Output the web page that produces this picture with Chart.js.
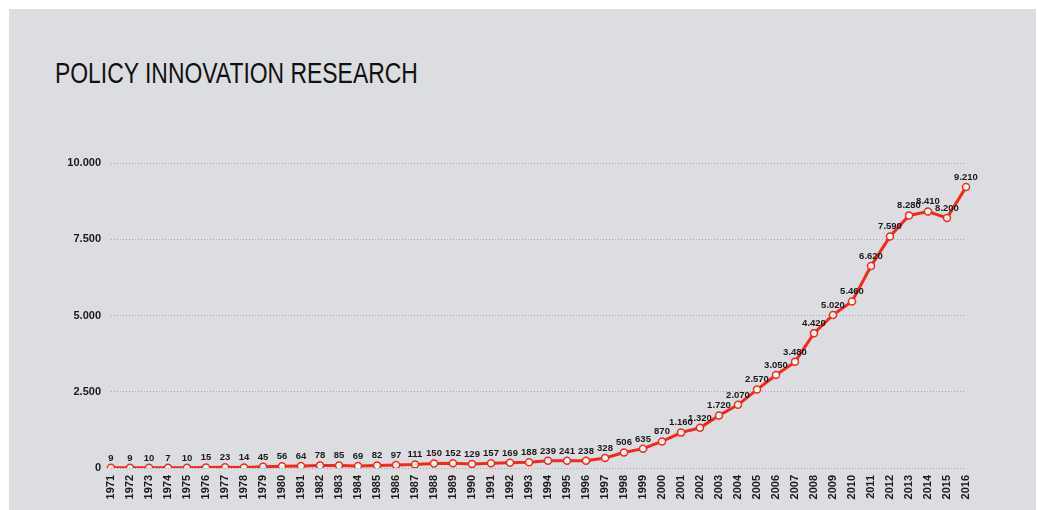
<!DOCTYPE html>
<html>
<head>
<meta charset="utf-8">
<script src="https://cdn.jsdelivr.net/npm/chart.js@4"></script>
<style>
  html, body { margin: 0; padding: 0; background: #fff; }
  #panel { position: absolute; left: 9px; top: 9px; width: 1027px; height: 501px; background: #dcdde0; }
  #title { position: absolute; left: 55px; top: 57px; margin: 0; font: normal 29px "Liberation Sans", sans-serif; color: #111; transform: scaleX(0.79); transform-origin: left top; white-space: nowrap; }
  #wrap { position: absolute; left: 0; top: 0; width: 1038px; height: 510px; }
</style>
</head>
<body>
<div id="panel"></div>
<h1 id="title">POLICY INNOVATION RESEARCH</h1>
<div id="wrap"><canvas id="myChart"></canvas></div>
<script>
var years = ["1971","1972","1973","1974","1975","1976","1977","1978","1979","1980",
  "1981","1982","1983","1984","1985","1986","1987","1988","1989","1990",
  "1991","1992","1993","1994","1995","1996","1997","1998","1999","2000",
  "2001","2002","2003","2004","2005","2006","2007","2008","2009","2010",
  "2011","2012","2013","2014","2015","2016"];
var research = [9, 9, 10, 7, 10, 15, 23, 14, 45, 56,
  64, 78, 85, 69, 82, 97, 111, 150, 152, 129,
  157, 169, 188, 239, 241, 238, 328, 506, 635, 870,
  1160, 1320, 1720, 2070, 2570, 3050, 3480, 4420, 5020, 5460,
  6620, 7590, 8280, 8410, 8200, 9210];
var yTicks = [0, 2500, 5000, 7500, 10000];

var font = '"Liberation Sans", Arial, sans-serif';

function fmt(v) {
  return String(v).replace(/\B(?=(\d{3})+(?!\d))/g, '.');
}

// value labels above each point
var pointLabels = {
  id: 'pointLabels',
  afterDatasetsDraw: function(chart) {
    var ctx = chart.ctx;
    var meta = chart.getDatasetMeta(0);
    ctx.save();
    ctx.font = 'bold 9.5px ' + font;
    ctx.fillStyle = '#1a1a1a';
    ctx.textAlign = 'center';
    ctx.textBaseline = 'bottom';
    meta.data.forEach(function(pt, i) {
      ctx.fillText(fmt(research[i]), pt.x, pt.y - 5);
    });
    ctx.restore();
  }
};

var ctx = document.getElementById('myChart').getContext('2d');
var chart = new Chart(ctx, {
  type: 'line',
  data: {
    labels: years,
    datasets: [{
      label: 'Research',
      data: research,
      borderColor: '#f8261c',
      borderWidth: 3,
      backgroundColor: '#ffffff',
      pointBackgroundColor: '#ffffff',
      pointBorderColor: '#f8261c',
      pointBorderWidth: 1.5,
      pointRadius: 3.5,
      tension: 0
    }]
  },
  options: {
    responsive: true,
    maintainAspectRatio: false,
    animation: false,
    layout: { padding: { left: 61, right: 72, top: 163, bottom: 4 } },
    plugins: {
      legend: { display: false },
      tooltip: { enabled: false }
    },
    scales: {
      x: {
        offset: false,
        grid: { display: false, drawTicks: false },
        border: { display: false },
        afterFit: function(s) { s.height = 38; },
        ticks: {
          minRotation: 90, maxRotation: 90, autoSkip: false, padding: 7,
          color: '#1a1a1a',
          font: { family: font, size: 11, weight: 'bold' }
        }
      },
      y: {
        min: 0, max: 10000,
        afterFit: function(s) { s.width = 50; },
        afterBuildTicks: function(s) { s.ticks = yTicks.map(function(v) { return { value: v }; }); },
        grid: { color: '#a8a9ab', lineWidth: 1, drawTicks: false },
        border: { display: false, dash: [1, 2] },
        ticks: {
          padding: 10,
          color: '#1a1a1a',
          font: { family: font, size: 11, weight: 'bold' },
          callback: function(v) { return fmt(v); }
        }
      }
    }
  },
  plugins: [pointLabels]
});
</script>
</body>
</html>
